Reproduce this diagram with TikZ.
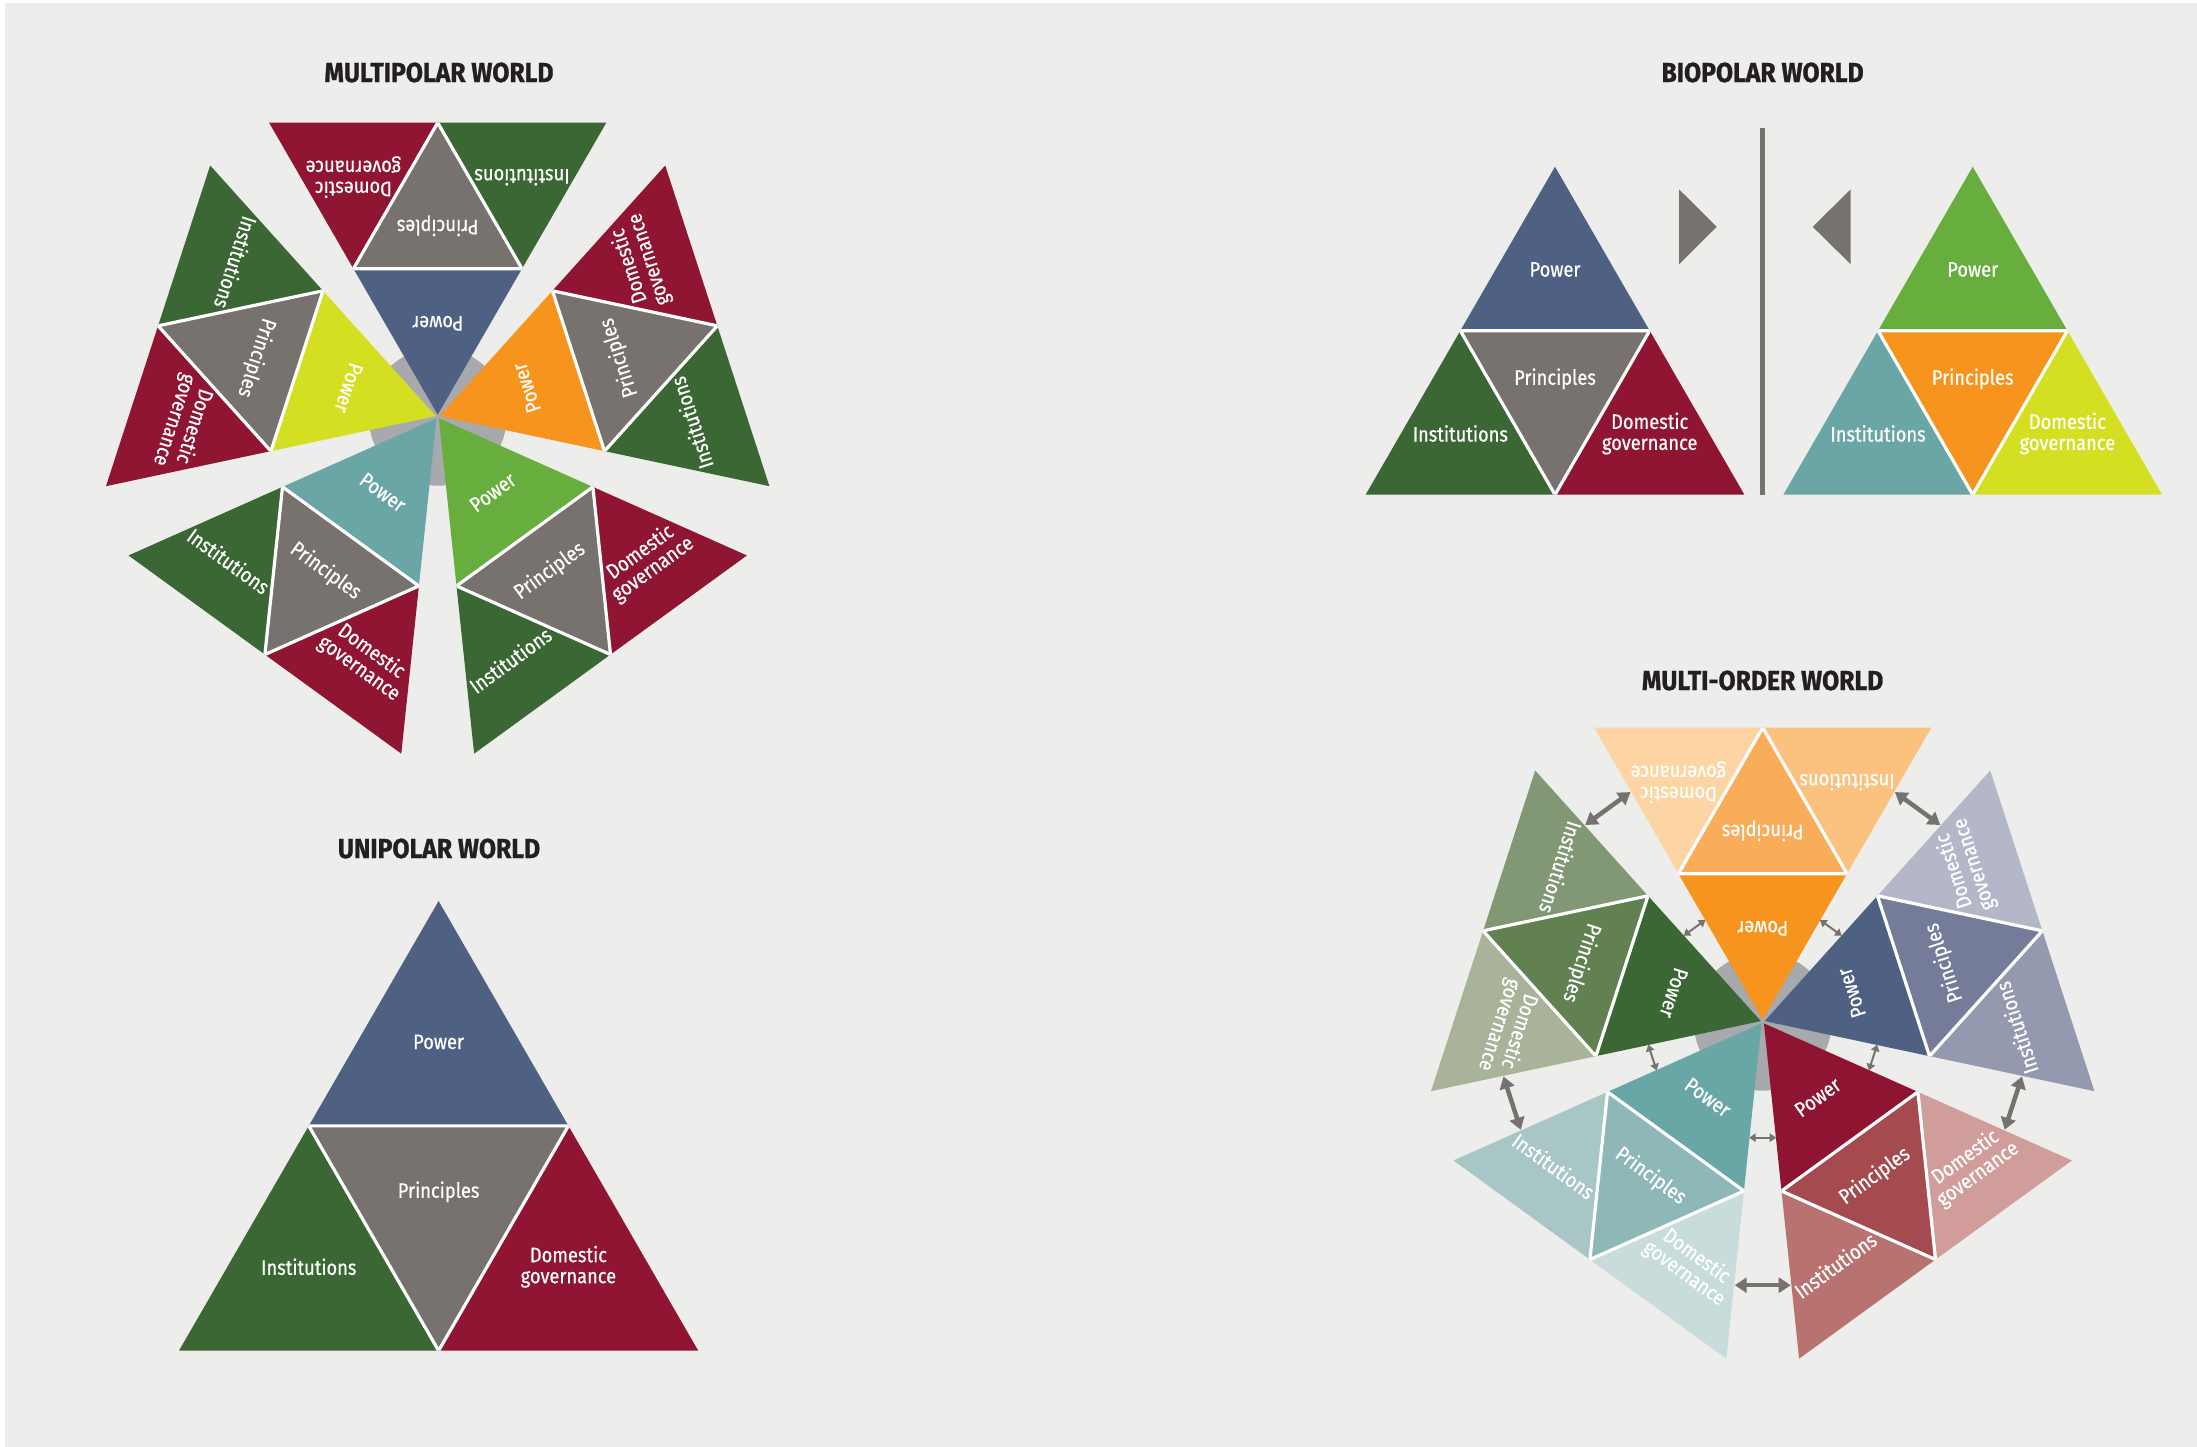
\documentclass[tikz,border=0pt]{standalone}
\usepackage{fontspec}
\setmainfont{Fira Sans}[FakeStretch=0.87, FakeBold=0.5]
\newfontfamily\headfont{Fira Sans}[FakeStretch=0.9, FakeBold=0.9]
\usetikzlibrary{arrows.meta}

% base palette
\definecolor{bg}{HTML}{EDEDEB}
\definecolor{ink}{HTML}{231F20}
\definecolor{slate}{HTML}{4F6183}
\definecolor{stone}{HTML}{77726E}
\definecolor{forest}{HTML}{3A6733}
\definecolor{wine}{HTML}{8F1532}
\definecolor{lime}{HTML}{D5DF22}
\definecolor{tangerine}{HTML}{F7941D}
\definecolor{leaf}{HTML}{67AE3E}
\definecolor{lagoon}{HTML}{6AA6A6}
\definecolor{hub}{HTML}{A7A9AC}
\definecolor{arrowgrey}{HTML}{767270}
% tints for the multi-order wheel
\definecolor{orB}{HTML}{F9AD5A}\definecolor{orC}{HTML}{FBC27F}\definecolor{orD}{HTML}{FDD5A5}
\definecolor{blB}{HTML}{747C99}\definecolor{blC}{HTML}{9499AF}\definecolor{blD}{HTML}{B4B7C7}
\definecolor{rdA}{HTML}{8E1432}\definecolor{rdB}{HTML}{A54B50}\definecolor{rdC}{HTML}{B87371}\definecolor{rdD}{HTML}{D09D9B}
\definecolor{tlA}{HTML}{69A6A6}\definecolor{tlB}{HTML}{8DB8B7}\definecolor{tlC}{HTML}{A8C6C6}\definecolor{tlD}{HTML}{C8DCDB}
\definecolor{gnA}{HTML}{3A6733}\definecolor{gnB}{HTML}{618150}\definecolor{gnC}{HTML}{829773}\definecolor{gnD}{HTML}{A8B39A}

% one four-part triangle: #1 name, #2 apex, #3 extra transform, #4 height,
% #5 power, #6 principles, #7 institutions, #8 domestic governance
\newcommand{\triforce}[8]{%
  \begin{scope}[shift={#2}, #3, transform shape]
    \pgfmathsetmacro{\hh}{#4}
    \pgfmathsetmacro{\hw}{#4/sqrt(3)}
    \pgfmathsetmacro{\lift}{0.02*#4}
    \coordinate (#1-a)  at (0,0);
    \coordinate (#1-l)  at (-\hw/2,\hh/2);
    \coordinate (#1-r)  at (\hw/2,\hh/2);
    \coordinate (#1-bl) at (-\hw,\hh);
    \coordinate (#1-b)  at (0,\hh);
    \coordinate (#1-br) at (\hw,\hh);
    \fill[#5] (#1-a) -- (#1-l) -- (#1-r) -- cycle;
    \fill[#6] (#1-l) -- (#1-r) -- (#1-b) -- cycle;
    \fill[#7] (#1-l) -- (#1-bl) -- (#1-b) -- cycle;
    \fill[#8] (#1-r) -- (#1-b) -- (#1-br) -- cycle;
    \begin{scope}
      \clip (#1-a) -- (#1-bl) -- (#1-br) -- cycle;
      \draw[sep] (#1-l) -- (#1-r) -- (#1-b) -- cycle;
    \end{scope}
    \node[lbl] (#1-pow) at (0,\hh/3-\lift) {Power};
    \node[lbl] (#1-pri) at (0,2*\hh/3-\lift) {Principles};
    \node[lbl] (#1-ins) at (-\hw/2,5*\hh/6-\lift) {Institutions};
    \node[lbl] (#1-dom) at (\hw/2,5*\hh/6-\lift) {Domestic\\governance};
  \end{scope}}

\begin{document}
\begin{tikzpicture}[x=1pt,y=-1pt,
  lbl/.style={text=white, font=\fontsize{21}{21}\selectfont, align=center, inner sep=0pt},
  sep/.style={draw=white, line width=3.2pt},
  heading/.style={text=ink, font=\headfont\bfseries\fontsize{27.5}{27.5}\selectfont, inner sep=0pt},
  smallarr/.style={draw=arrowgrey, line width=2pt,
    {Triangle[length=6.5pt,width=8.5pt]}-{Triangle[length=6.5pt,width=8.5pt]}},
  bigarr/.style={draw=arrowgrey, line width=4.5pt,
    {Triangle[length=12pt,width=15pt]}-{Triangle[length=12pt,width=15pt]}},
  marker/.style={fill=stone},
  divider/.style={draw=stone, line width=5.3pt}]

\useasboundingbox (0,0) rectangle (2197,1447);
\fill[white] (0,0) rectangle (2197,1447);
\fill[bg] (5,3) rectangle (2197,1447);

% ---------- multipolar world ----------
\node[heading] (t-multi) at (439,72.5) {MULTIPOLAR WORLD};
\coordinate (mp) at (437.7,416.7);
\fill[hub] (mp) circle[radius=69pt];
\triforce{mpN}{(mp)}{rotate=180,shift={(0,2)}}{292}{slate}{stone}{forest}{wine}
\triforce{mpE}{(mp)}{rotate=108,shift={(0,2)}}{292}{tangerine}{stone}{forest}{wine}
\triforce{mpSE}{(mp)}{rotate=36,shift={(0,2)}}{292}{leaf}{stone}{forest}{wine}
\triforce{mpSW}{(mp)}{rotate=-36,shift={(0,2)}}{292}{lagoon}{stone}{forest}{wine}
\triforce{mpW}{(mp)}{rotate=-108,shift={(0,2)}}{292}{lime}{stone}{forest}{wine}

% ---------- unipolar world ----------
\node[heading] (t-uni) at (439,848.5) {UNIPOLAR WORLD};
\triforce{uni}{(438.6,901)}{rotate=0}{449.7}{slate}{stone}{forest}{wine}

% ---------- bipolar world ----------
\node[heading] (t-bi) at (1762.6,72.5) {BIOPOLAR WORLD};
\triforce{biL}{(1555,166.7)}{rotate=0}{328}{slate}{stone}{forest}{wine}
\triforce{biR}{(1972.7,166.7)}{rotate=0}{328}{leaf}{tangerine}{lagoon}{lime}
\coordinate (divtop) at (1762.7,128);
\coordinate (divbot) at (1762.7,495);
\draw[divider] (divtop) -- (divbot);
\fill[marker] (1679,189.3) -- (1716.7,226.8) -- (1679,264.3) -- cycle;
\fill[marker] (1850.7,189.3) -- (1812.7,226.8) -- (1850.7,264.3) -- cycle;

% ---------- multi-order world ----------
\node[heading] (t-mo) at (1762.6,680.5) {MULTI-ORDER WORLD};
\coordinate (mo) at (1762.7,1021.7);
\fill[hub] (mo) circle[radius=69pt];
\triforce{moN}{(mo)}{rotate=180,shift={(0,2)}}{292}{tangerine}{orB}{orC}{orD}
\triforce{moE}{(mo)}{rotate=108,shift={(0,2)}}{292}{slate}{blB}{blC}{blD}
\triforce{moSE}{(mo)}{rotate=36,shift={(0,2)}}{292}{rdA}{rdB}{rdC}{rdD}
\triforce{moSW}{(mo)}{rotate=-36,shift={(0,2)}}{292}{tlA}{tlB}{tlC}{tlD}
\triforce{moW}{(mo)}{rotate=-108,shift={(0,2)}}{292}{gnA}{gnB}{gnC}{gnD}

% two-way links across each gap of the wheel
\foreach \k in {0,...,4} {
  \begin{scope}[shift={(mo)}, rotate=72*\k]
    \coordinate (sa\k) at (-13.5,116);
    \coordinate (sb\k) at (13.5,116);
    \coordinate (ba\k) at (-28,263.5);
    \coordinate (bb\k) at (28,263.5);
  \end{scope}
  \draw[smallarr] (sa\k) -- (sb\k);
  \draw[bigarr] (ba\k) -- (bb\k);
}
\end{tikzpicture}
\end{document}
